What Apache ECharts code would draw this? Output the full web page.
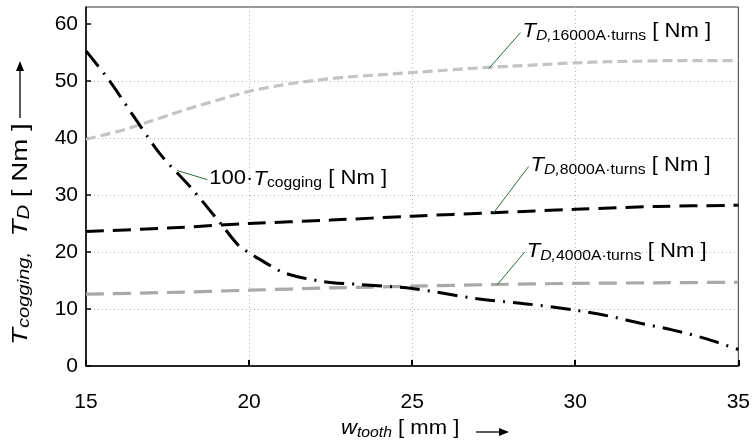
<!DOCTYPE html>
<html>
<head>
<meta charset="utf-8">
<script src="https://cdn.jsdelivr.net/npm/echarts@6/dist/echarts.min.js"></script>
<style>
  html, body { margin: 0; padding: 0; background: #fff; }
  #chart { width: 753px; height: 442px; }
</style>
</head>
<body>
<div id="chart"></div>
<script>
// 数据
var xTicks = [15, 20, 25, 30, 35];
var yTicks = [0, 10, 20, 30, 40, 50, 60];

var x16000 = [15, 16, 17, 18, 19, 20, 21, 22, 23, 24, 25, 26, 27, 28, 29, 30, 31, 32, 33, 34, 35];
var y16000 = [39.8, 41.2, 43.0, 44.9, 46.6, 48.2, 49.3, 50.1, 50.7, 51.1, 51.5, 51.9, 52.3, 52.6, 52.9, 53.2, 53.4, 53.5, 53.6, 53.6, 53.6];

var x8000 = [15, 17.5, 20, 22.5, 25, 27.5, 30, 32.5, 35];
var y8000 = [23.6, 24.2, 25.0, 25.6, 26.3, 26.9, 27.5, 28.0, 28.2];

var x4000 = [15, 17.5, 20, 22.5, 25, 27.5, 30, 32.5, 35];
var y4000 = [12.6, 12.9, 13.3, 13.7, 14.0, 14.3, 14.5, 14.6, 14.7];

var xCog = [15, 15.7, 16.5, 17.3, 18.2, 19.1, 19.7, 20, 20.3, 21.1, 22.3, 23.4, 25, 27, 28.5, 30, 31, 32, 33, 34, 35];
var yCog = [55.3, 50.2, 43.5, 37.0, 31.4, 25.2, 21.0, 19.9, 18.8, 16.3, 14.8, 14.3, 13.6, 11.8, 10.9, 9.8, 8.8, 7.5, 6.3, 4.8, 2.9];

function pairs(xs, ys) {
     var out = [];
     for (var i = 0; i < xs.length; i++) {
          out.push([xs[i], ys[i]]);
     }
     return out;
}

var FONT = '"Liberation Sans", Arial, sans-serif';
var chart = echarts.init(document.getElementById('chart'));

var option = {
     animation: false,
     backgroundColor: '#fff',
     grid: {
          left: 86, right: 11, top: 7, bottom: 76,
          show: true,
          borderColor: '#333',
          borderWidth: 1
     },
     xAxis: {
          type: 'value',
          min: xTicks[0],
          max: xTicks[xTicks.length - 1],
          interval: 5,
          axisLine: { lineStyle: { color: '#000', width: 1.5 } },
          axisTick: { inside: true, length: 6, lineStyle: { color: '#000', width: 2 } },
          axisLabel: { color: '#000', fontSize: 21, fontFamily: FONT, margin: 26 },
          splitLine: {
               show: true, showMinLine: false, showMaxLine: false,
               lineStyle: { color: '#b5b5b5', type: [1, 3], width: 1 }
          }
     },
     yAxis: {
          type: 'value',
          min: 0,
          max: 63,
          interval: 10,
          axisLine: { lineStyle: { color: '#000', width: 1.5 } },
          axisTick: { inside: true, length: 5, lineStyle: { color: '#000', width: 1.5 } },
          axisLabel: {
               color: '#000', fontSize: 21, fontFamily: FONT, margin: 8,
               padding: [5, 0, 0, 0],
               showMaxLabel: false
          },
          splitLine: {
               show: true, showMinLine: false, showMaxLine: false,
               // 去掉60处的网格线
               lineStyle: { color: ['#b5b5b5', '#b5b5b5', '#b5b5b5', '#b5b5b5', '#b5b5b5', 'rgba(0,0,0,0)'], type: [1, 3], width: 1 }
          }
     },
     series: [{
          name: 'TD16000',
          type: 'line',
          data: pairs(x16000, y16000),
          smooth: 0.3,
          symbol: 'none',
          lineStyle: { color: '#c4c4c4', width: 3.2, type: [10, 5] }
     }, {
          name: 'TD8000',
          type: 'line',
          data: pairs(x8000, y8000),
          smooth: 0.3,
          symbol: 'none',
          lineStyle: { color: '#000', width: 3, type: [18, 9] }
     }, {
          name: 'TD4000',
          type: 'line',
          data: pairs(x4000, y4000),
          smooth: 0.3,
          symbol: 'none',
          lineStyle: { color: '#a9a9a9', width: 3.2, type: [18, 9] }
     }, {
          name: 'Tcogging',
          type: 'line',
          data: pairs(xCog, yCog),
          smooth: 0.3,
          symbol: 'none',
          lineStyle: { color: '#000', width: 3, type: [20, 8, 2, 8] }
     }]
};
chart.setOption(option);

// 标注文字 (主字 + 下标)
function richStyle(main, sub) {
     return {
          m: { fontSize: main, fontFamily: FONT, color: '#000', lineHeight: 24, verticalAlign: 'middle' },
          mi: { fontSize: main, fontFamily: FONT, fontStyle: 'italic', color: '#000', lineHeight: 24, verticalAlign: 'middle' },
          s: { fontSize: sub, fontFamily: FONT, color: '#000', lineHeight: 14, verticalAlign: 'bottom' },
          si: { fontSize: sub, fontFamily: FONT, fontStyle: 'italic', color: '#000', lineHeight: 14, verticalAlign: 'bottom' }
     };
}
var rich = richStyle(21, 15);

// [line start (on curve), line end (near text), text]
var notes = [
     [[27.35, 52.2], [28.32, 58.5], '{mi|T}{si|D,}{s|16000A·turns}{m| [ Nm ]}'],
     [[27.5, 26.9], [28.57, 35.0], '{mi|T}{si|D,}{s|8000A·turns}{m| [ Nm ]}'],
     [[27.6, 14.2], [28.45, 20.0], '{mi|T}{si|D,}{s|4000A·turns}{m| [ Nm ]}'],
     [[17.8, 34.3], [18.72, 32.7], '{m|100·}{mi|T}{s|cogging}{m| [ Nm ]}']
];

var graphics = [];
for (var i = 0; i < notes.length; i++) {
     var p1 = chart.convertToPixel({ gridIndex: 0 }, notes[i][0]);
     var p2 = chart.convertToPixel({ gridIndex: 0 }, notes[i][1]);
     graphics.push({
          type: 'line',
          shape: { x1: p1[0], y1: p1[1], x2: p2[0], y2: p2[1] },
          style: { stroke: '#2f6b3b', lineWidth: 1 },
          z: 10
     });
     graphics.push({
          type: 'text',
          x: p2[0] + 2,
          y: p2[1] - 13,
          scaleX: 1.05,
          style: { text: notes[i][2], rich: rich },
          z: 10
     });
}

// 坐标轴名称
graphics.push({
     type: 'text',
     x: 341,
     y: 416,
     scaleX: 1.05,
     style: { text: '{mi|w}{si|tooth}{m| [ mm ]}', rich: rich }
});
graphics.push({
     type: 'line',
     shape: { x1: 476, y1: 432, x2: 502, y2: 432 },
     style: { stroke: '#000', lineWidth: 1.3 }
});
graphics.push({
     type: 'polygon',
     shape: { points: [[509, 432], [499, 428], [499, 436]] },
     style: { fill: '#000' }
});
graphics.push({
     type: 'text',
     x: 9,
     y: 345,
     rotation: Math.PI / 2,
     scaleX: 1.26,
     style: { text: '{mi|T}{si|cogging,}{m|  }{mi|T}{si|D}{m| [ Nm ]}', rich: richStyle(22, 16) }
});
graphics.push({
     type: 'line',
     shape: { x1: 20, y1: 118, x2: 20, y2: 70 },
     style: { stroke: '#000', lineWidth: 1.3 }
});
graphics.push({
     type: 'polygon',
     shape: { points: [[20, 61], [16, 71], [24, 71]] },
     style: { fill: '#000' }
});

chart.setOption({ graphic: graphics });
</script>
</body>
</html>
